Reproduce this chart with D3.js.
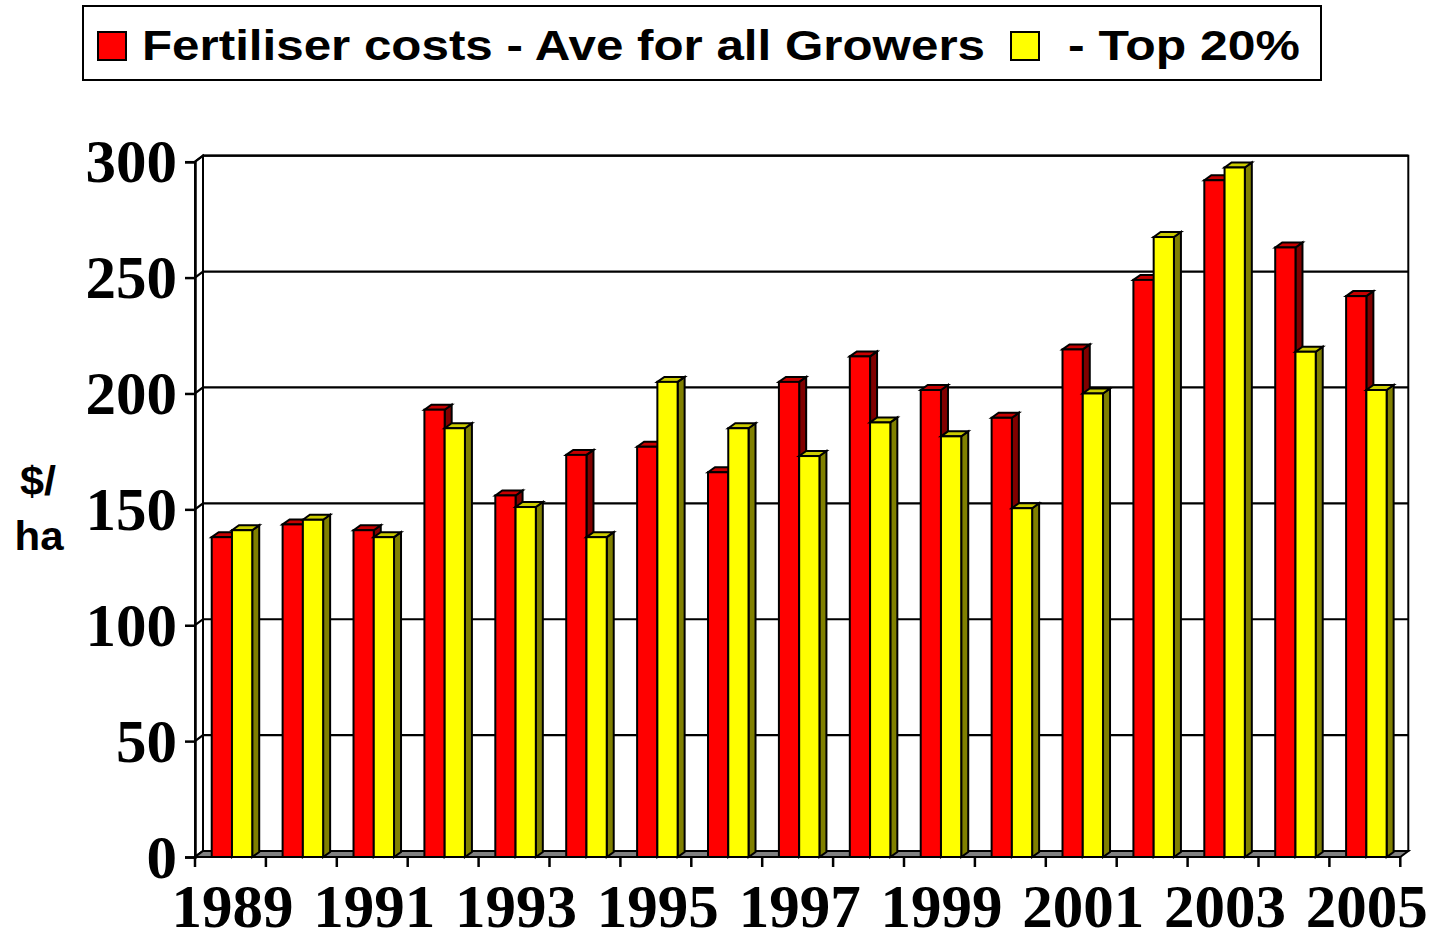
<!DOCTYPE html>
<html>
<head>
<meta charset="utf-8">
<script src="https://cdn.jsdelivr.net/npm/d3@7"></script>
<style>
  html, body { margin: 0; padding: 0; background: #fff; }
  svg { display: block; }
</style>
</head>
<body>
<svg id="chart" width="1431" height="940"></svg>
<script>
// ---- data ----
const years = [1989,1990,1991,1992,1993,1994,1995,1996,1997,1998,1999,2000,2001,2002,2003,2004,2005];
const aveAllGrowers = [138,143.5,141,193,156,173.5,177,166,205,216,201.5,189.5,219,249,292,263,242];
const top20 = [141,145.5,138,185,151,138,205,185,173,187.5,181.5,150.5,200,267.5,297.5,218,201.5];
const yTicks = [0,50,100,150,200,250,300];
const xLabelYears = [1989,1991,1993,1995,1997,1999,2001,2003,2005];
const seriesNames = ["Fertiliser costs - Ave for all Growers", "- Top 20%"];

// ---- layout ----
const svg = d3.select("#chart");
const frontLeft = 195, frontRight = 1400.3, frontBottom = 857, frontTop = 161.7;
const wallDx = 8, wallDy = -6;       // depth offset of the back wall
const barDx = 7, barDy = -5;         // depth of each column

const x = d3.scaleBand().domain(years).range([frontLeft, frontRight]).paddingInner(0).paddingOuter(0);
const xEdge = d3.scaleLinear().domain([0, years.length]).range([frontLeft, frontRight]);
const xs = d3.scaleBand().domain(["ave","top"]).range([0, x.bandwidth()]).paddingInner(0).paddingOuter(0.75).align(0.55);
const yFront = d3.scaleLinear().domain([0,300]).range([frontBottom, frontTop]);
const yBack = v => yFront(v) + wallDy;

const serif = "'Liberation Serif','Times New Roman',serif";
const sans = "'Liberation Sans',Arial,Helvetica,sans-serif";

// back wall
const bL = frontLeft + wallDx, bR = frontRight + wallDx;
svg.append("rect").attr("x", bL).attr("y", yBack(300)).attr("width", bR - bL)
  .attr("height", yBack(0) - yBack(300)).attr("fill", "#fff").attr("stroke", "#000").attr("stroke-width", 2);
// left side wall
svg.append("path")
  .attr("d", `M${frontLeft},${yFront(300)} L${bL},${yBack(300)} L${bL},${yBack(0)} L${frontLeft},${yFront(0)} Z`)
  .attr("fill", "#fff").attr("stroke", "#000").attr("stroke-width", 2);
// gridlines
yTicks.forEach(v => {
  svg.append("path")
    .attr("d", `M${frontLeft},${yFront(v)} L${bL},${yBack(v)} L${bR},${yBack(v)}`)
    .attr("fill", "none").attr("stroke", "#000").attr("stroke-width", 2.2);
});
// floor
svg.append("path")
  .attr("d", `M${frontLeft},${yFront(0)} L${bL},${yBack(0)} L${bR},${yBack(0)} L${frontRight},${yFront(0)} Z`)
  .attr("fill", "#808080").attr("stroke", "#000").attr("stroke-width", 2);

// bars
const colors = {
  ave: {front: "#FF0000", top: "#C80000", side: "#800000"},
  top: {front: "#FFFF00", top: "#CCCC00", side: "#808000"}
};
const barData = [];
years.forEach((yr, i) => {
  barData.push({year: yr, key: "ave", value: aveAllGrowers[i]});
  barData.push({year: yr, key: "top", value: top20[i]});
});
const g = svg.append("g").attr("stroke", "#000").attr("stroke-width", 2).attr("stroke-linejoin", "miter");
barData.forEach(d => {
  const x0 = x(d.year) + xs(d.key), w = xs.bandwidth();
  const y0 = yFront(d.value), yb = yFront(0);
  const c = colors[d.key];
  g.append("path").attr("fill", c.side)
    .attr("d", `M${x0+w},${y0} L${x0+w+barDx},${y0+barDy} L${x0+w+barDx},${yb+barDy} L${x0+w},${yb} Z`);
  g.append("path").attr("fill", c.top)
    .attr("d", `M${x0},${y0} L${x0+barDx},${y0+barDy} L${x0+w+barDx},${y0+barDy} L${x0+w},${y0} Z`);
  g.append("rect").attr("fill", c.front).attr("x", x0).attr("y", y0).attr("width", w).attr("height", yb - y0);
});

// y axis (front)
const yAxis = svg.append("g").attr("transform", `translate(${frontLeft},0)`)
  .call(d3.axisLeft(yFront).tickValues(yTicks).tickSize(10).tickPadding(8).tickFormat(d3.format("d")));
yAxis.select(".domain").attr("stroke", "#000").attr("stroke-width", 2.5);
yAxis.selectAll(".tick line").attr("stroke", "#000").attr("stroke-width", 2.5);
yAxis.selectAll(".tick text").attr("fill", "#000").attr("font-family", serif)
  .attr("font-weight", "bold").attr("font-size", 61).attr("dy", "0.33em");

// x axis: ticks at category edges
const xTickG = svg.append("g");
d3.range(years.length + 1).forEach(i => {
  xTickG.append("line").attr("x1", xEdge(i)).attr("x2", xEdge(i))
    .attr("y1", frontBottom).attr("y2", frontBottom + 10).attr("stroke", "#000").attr("stroke-width", 2.5);
});
const xAxis = svg.append("g").attr("transform", `translate(2,${frontBottom})`)
  .call(d3.axisBottom(x).tickValues(xLabelYears).tickSize(0).tickPadding(27).tickFormat(d3.format("d")));
xAxis.select(".domain").remove();
xAxis.selectAll(".tick text").attr("fill", "#000").attr("font-family", serif)
  .attr("font-weight", "bold").attr("font-size", 61).attr("dy", "0.71em");

// y axis title
svg.append("text").attr("x", 38).attr("y", 495).attr("text-anchor", "middle")
  .attr("font-family", sans).attr("font-weight", "bold").attr("font-size", 40)
  .attr("textLength", 36).attr("lengthAdjust", "spacingAndGlyphs").text("$/");
svg.append("text").attr("x", 39).attr("y", 550).attr("text-anchor", "middle")
  .attr("font-family", sans).attr("font-weight", "bold").attr("font-size", 40)
  .attr("textLength", 49).attr("lengthAdjust", "spacingAndGlyphs").text("ha");

// legend
const lg = svg.append("g");
lg.append("rect").attr("x", 83).attr("y", 6).attr("width", 1238).attr("height", 74)
  .attr("fill", "#fff").attr("stroke", "#000").attr("stroke-width", 2);
const legendItems = [
  {key: "ave", sx: 98, tx: 142, tl: 843, label: seriesNames[0]},
  {key: "top", sx: 1011, tx: 1068, tl: 232, label: seriesNames[1]}
];
legendItems.forEach(it => {
  lg.append("rect").attr("x", it.sx).attr("y", 32).attr("width", 28).attr("height", 28)
    .attr("fill", colors[it.key].front).attr("stroke", "#000").attr("stroke-width", 2);
  lg.append("text").attr("x", it.tx).attr("y", 59.5).attr("font-family", sans)
    .attr("font-weight", "bold").attr("font-size", 42)
    .attr("textLength", it.tl).attr("lengthAdjust", "spacingAndGlyphs").text(it.label);
});
</script>
</body>
</html>
